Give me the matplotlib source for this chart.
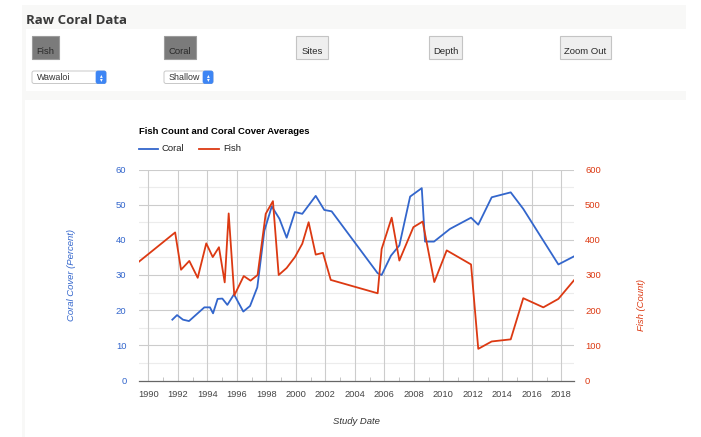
import matplotlib
matplotlib.use("Agg")
import matplotlib.pyplot as plt
from matplotlib.patches import Rectangle, FancyBboxPatch
from matplotlib.lines import Line2D

# data (decimal year of each survey)
fish_years = [1989.37, 1991.82, 1992.22, 1992.78, 1993.35, 1993.93, 1994.37, 1994.79, 1995.18, 1995.45,
              1995.83, 1996.47, 1996.93, 1997.41, 1997.96, 1998.45, 1998.84, 1999.38, 1999.94, 2000.44,
              2000.87, 2001.35, 2001.84, 2002.37, 2005.55, 2005.82, 2006.5, 2007.02, 2007.97, 2008.6,
              2009.39, 2010.23, 2011.88, 2012.37, 2013.28, 2014.57, 2015.42, 2016.78, 2017.8, 2018.86]
fish_counts = [338, 421, 315, 340, 292, 390, 351, 379, 279, 475,
               242, 297, 284, 300, 474, 510, 300, 320, 351, 389,
               450, 358, 363, 286, 248, 374, 463, 341, 436, 452,
               280, 370, 330, 90, 111, 117, 234, 208, 232, 285]

coral_years = [1991.63, 1991.95, 1992.35, 1992.76, 1993.8, 1994.18, 1994.39, 1994.7, 1995.02, 1995.36,
               1995.81, 1996.44, 1996.9, 1997.39, 1997.87, 1998.37, 1998.89, 1999.38, 1999.94, 2000.44,
               2001.35, 2001.93, 2002.43, 2005.55, 2005.82, 2006.45, 2007.02, 2007.75, 2008.54, 2008.76,
               2009.37, 2010.45, 2011.88, 2012.37, 2013.28, 2014.57, 2015.42, 2017.8, 2018.86]
coral_cover = [17.3, 18.6, 17.3, 16.9, 20.8, 20.8, 19.1, 23.2, 23.3, 21.5,
               24.5, 19.6, 21.2, 26.5, 42.6, 49.5, 46.0, 40.6, 47.9, 47.4,
               52.5, 48.5, 48.1, 30.5, 30.0, 35.5, 38.4, 52.3, 54.7, 39.5,
               39.5, 43.1, 46.3, 44.3, 52.1, 53.5, 48.8, 33.0, 35.3]

year_ticks = list(range(1990, 2019, 2))
coral_ticks = [0, 10, 20, 30, 40, 50, 60]
fish_ticks = [0, 100, 200, 300, 400, 500, 600]

buttons = ["Fish", "Coral", "Sites", "Depth", "Zoom Out"]
button_on = [True, True, False, False, False]
dropdowns = ["Wawaloi", "Shallow"]

BLUE = "#3366cc"
RED = "#dc3912"
FONT = ["Liberation Sans", "DejaVu Sans"]
plt.rcParams["font.family"] = FONT

W, H = 701, 437
fig = plt.figure(figsize=(W / 100, H / 100), dpi=100)
fig.patch.set_facecolor("white")

# page / controls drawn in pixel coordinates
bg = fig.add_axes([0, 0, 1, 1])
bg.set_xlim(0, W)
bg.set_ylim(H, 0)
bg.axis("off")

bg.add_patch(Rectangle((22, 5), 664, 440, facecolor="#f8f8f7", edgecolor="none"))
bg.add_patch(Rectangle((26, 29), 660, 62, facecolor="white", edgecolor="none"))
bg.add_patch(Rectangle((25, 100), 661, 340, facecolor="white", edgecolor="none"))
bg.text(26, 20, "Raw Coral Data", fontsize=9.5, fontweight="bold", color="#3a3a3a",
        family=["Open Sans", "DejaVu Sans"], va="center", ha="left")

btn_x = [32, 164, 296, 429, 560]
btn_w = [27, 32, 32, 33, 51]
for name, on, x, w in zip(buttons, button_on, btn_x, btn_w):
    face = "#7b7b7b" if on else "#efefef"
    edge = "#9c9c9c" if on else "#c4c4c4"
    bg.add_patch(Rectangle((x, 35.5), w, 23.5, facecolor=face, edgecolor=edge, lw=0.8))
    bg.text(x + w / 2, 52, name, fontsize=6.8, color="#2a2a2a", ha="center", va="center")

dd_x = [32, 164]
dd_w = [74, 49]
for name, x, w in zip(dropdowns, dd_x, dd_w):
    bg.add_patch(FancyBboxPatch((x, 71), w, 12.5, boxstyle="round,pad=0,rounding_size=2",
                                facecolor="white", edgecolor="#c8c8c8", lw=0.7))
    bg.add_patch(FancyBboxPatch((x + w - 10, 71), 10, 12.5, boxstyle="round,pad=0,rounding_size=2",
                                facecolor="#3d85f4", edgecolor="#3d85f4", lw=0.5))
    bg.text(x + w - 5, 75.5, "\u25b4", fontsize=4, color="white", ha="center", va="center",
            family="DejaVu Sans")
    bg.text(x + w - 5, 79.5, "\u25be", fontsize=4, color="white", ha="center", va="center",
            family="DejaVu Sans")
    bg.text(x + 5, 77.5, name, fontsize=6.4, color="#333333", ha="left", va="center")

# title + legend
bg.text(139, 132, "Fish Count and Coral Cover Averages", fontsize=6.8, fontweight="bold",
        color="#000000", ha="left", va="center")
bg.add_line(Line2D([139, 158], [148.5, 148.5], color=BLUE, lw=1.3))
bg.text(162, 148.5, "Coral", fontsize=6.8, color="#222222", ha="left", va="center")
bg.add_line(Line2D([199, 219], [148.5, 148.5], color=RED, lw=1.3))
bg.text(223, 148.5, "Fish", fontsize=6.8, color="#222222", ha="left", va="center")

# main chart
left, right, top, bottom = 139, 574, 169.5, 380.5
ax = fig.add_axes([left / W, 1 - bottom / H, (right - left) / W, (bottom - top) / H])
ax.set_facecolor("none")
ax.set_xlim(1989.37, 2018.86)
ax.set_ylim(0, 60)

for y in range(5, 60, 10):
    ax.axhline(y, color="#ececec", lw=0.8, zorder=0)
for y in coral_ticks[1:]:
    ax.axhline(y, color="#cccccc", lw=0.8, zorder=0)
for yr in year_ticks:
    ax.axvline(yr, color="#cccccc", lw=0.8, zorder=0)

for s in ["top", "left", "right"]:
    ax.spines[s].set_visible(False)
ax.spines["bottom"].set_color("#666666")
ax.spines["bottom"].set_linewidth(0.9)

ax.set_xticks(year_ticks)
ax.set_xticks(list(range(1991, 2019, 2)), minor=True)
ax.tick_params(axis="x", which="major", length=0, pad=7, labelsize=6.7, labelcolor="#444444")
ax.tick_params(axis="x", which="minor", direction="in", length=3, color="#bbbbbb")
ax.set_yticks(coral_ticks)
ax.tick_params(axis="y", length=0, pad=9, labelsize=6.8, labelcolor=BLUE)

ax.plot(coral_years, coral_cover, color=BLUE, lw=1.3, zorder=3)

ax2 = ax.twinx()
ax2.set_ylim(0, 600)
ax2.set_yticks(fish_ticks)
ax2.tick_params(axis="y", length=0, pad=8, labelsize=6.8, labelcolor=RED)
for s in ["top", "left", "right", "bottom"]:
    ax2.spines[s].set_visible(False)
ax2.plot(fish_years, fish_counts, color=RED, lw=1.3, zorder=3)

# axis titles
bg.text(356, 421, "Study Date", fontsize=6.8, style="italic", color="#333333", ha="center", va="center")
bg.text(72, 275, "Coral Cover (Percent)", fontsize=6.8, style="italic", color=BLUE,
        rotation=90, ha="center", va="center")
bg.text(641, 305, "Fish (Count)", fontsize=6.8, style="italic", color=RED,
        rotation=90, ha="center", va="center")

fig.savefig("out.png", dpi=100)
